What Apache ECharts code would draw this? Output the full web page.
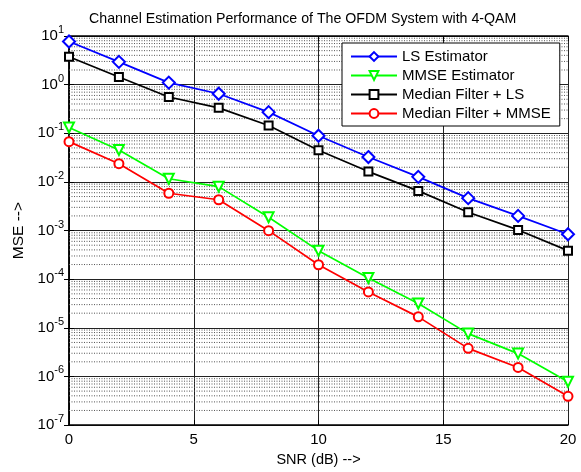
<!DOCTYPE html>
<html>
<head>
<meta charset="utf-8">
<script src="https://cdn.jsdelivr.net/npm/echarts@6/dist/echarts.min.js"></script>
<style>html,body{margin:0;padding:0;background:#fff;}#c{width:581px;height:472px;}</style>
</head>
<body>
<div id="c"></div>
<script>
const snr = [0, 2, 4, 6, 8, 10, 12, 14, 16, 18, 20];
const lsEstimator = [7.7, 2.94, 1.10, 0.65, 0.272, 0.089, 0.0324, 0.0127, 0.00464, 0.0020, 0.00084];
const mmseEstimator = [0.131, 0.0455, 0.0116, 0.0080, 0.00188, 0.000386, 0.000106, 3.16e-5, 7.6e-6, 2.95e-6, 7.8e-7];
const medianLS = [3.76, 1.43, 0.556, 0.333, 0.144, 0.0449, 0.0163, 0.00654, 0.00238, 0.00103, 0.000386];
const medianMMSE = [0.0673, 0.0237, 0.00585, 0.0043, 0.000995, 0.000198, 5.46e-5, 1.68e-5, 3.78e-6, 1.53e-6, 3.9e-7];
const seriesNames = ['LS Estimator', 'MMSE Estimator', 'Median Filter + LS', 'Median Filter + MMSE'];
const titleText = 'Channel Estimation Performance of The OFDM System with 4-QAM';
const xName = 'SNR (dB) -->';
const yName = 'MSE -->';

const FONT = 'Liberation Sans, Arial, sans-serif';
const minorGrid = [];
for (let e = -7; e < 1; e++) for (let m = 2; m <= 9; m++) minorGrid.push([0, m * Math.pow(10, e)]);

function pairs(arr) { return snr.map((x, i) => [x, arr[i]]); }
function mk(name, data, color, symbol, size, rot) {
  return {
    name, type: 'line', data: pairs(data), z: 5,
    symbol, symbolSize: size, symbolRotate: rot || 0,
    lineStyle: { color, width: 1.7 },
    itemStyle: { color, borderColor: color, borderWidth: 1.7 },
    emphasis: { disabled: true }, animation: false
  };
}

const chart = echarts.init(document.getElementById('c'));
chart.setOption({
  animation: false,
  backgroundColor: '#fff',
  title: { text: titleText, left: 84, top: 7, textStyle: { fontFamily: FONT, fontSize: 14.2, fontWeight: 'normal', color: '#000' } },
  grid: { left: 69, right: 13, top: 36, bottom: 41, containLabel: false },
  legend: {
    data: seriesNames, orient: 'vertical', left: 342, top: 43,
    padding: [6, 9, 5, 8], itemGap: 4, itemWidth: 46, itemHeight: 11,
    borderColor: '#000', borderWidth: 1, backgroundColor: '#fff',
    textStyle: { fontFamily: FONT, fontSize: 15, color: '#000' }
  },
  xAxis: [{
    type: 'value', min: 0, max: 20, interval: 5,
    name: xName, nameLocation: 'middle', nameGap: 26,
    nameTextStyle: { fontFamily: FONT, fontSize: 14.5, color: '#000' },
    axisLine: { show: true, lineStyle: { color: '#000', width: 1.5 } },
    axisTick: { show: true, inside: true, length: 5, lineStyle: { color: '#000' } },
    axisLabel: { fontFamily: FONT, fontSize: 15, color: '#000', margin: 7 },
    splitLine: { show: true, lineStyle: { color: '#222', width: 1 } }
  }, {
    type: 'value', min: 0, max: 20, interval: 5, position: 'top',
    axisLine: { show: true, lineStyle: { color: '#000', width: 1.5 } },
    axisTick: { show: true, inside: true, length: 5, lineStyle: { color: '#000' } },
    axisLabel: { show: false }, splitLine: { show: false }
  }],
  yAxis: [{
    type: 'log', logBase: 10, min: 1e-7, max: 10,
    name: yName, nameLocation: 'middle', nameGap: 34, nameRotate: 90,
    nameTextStyle: { fontFamily: FONT, fontSize: 15.5, color: '#000' },
    axisLine: { show: true, lineStyle: { color: '#000', width: 1.5 } },
    axisTick: { show: true, inside: true, length: 5, lineStyle: { color: '#000' } },
    axisLabel: {
      margin: 5, color: '#000',
      formatter: v => '{b|10}{s|' + Math.round(Math.log10(v)) + '}',
      rich: {
        b: { fontFamily: FONT, fontSize: 15, color: '#000' },
        s: { fontFamily: FONT, fontSize: 11, color: '#000', padding: [0, 0, 12, 0] }
      }
    },
    splitLine: { show: true, lineStyle: { color: '#222', width: 1 } }
  }, {
    type: 'log', logBase: 10, min: 1e-7, max: 10, position: 'right',
    axisLine: { show: true, lineStyle: { color: '#000', width: 1.5 } },
    axisTick: { show: true, inside: true, length: 5, lineStyle: { color: '#000' } },
    axisLabel: { show: false }, splitLine: { show: false }
  }],
  series: [
    {
      name: '_grid', type: 'custom', data: minorGrid, z: 1, silent: true,
      renderItem: function (params, api) {
        const cs = params.coordSys;
        const p = api.coord([0, api.value(1)]);
        return {
          type: 'line',
          shape: { x1: cs.x, y1: p[1], x2: cs.x + cs.width, y2: p[1] },
          style: { stroke: '#555', lineWidth: 1, lineDash: [1, 1.5] }
        };
      }
    },
    mk(seriesNames[0], lsEstimator, '#0000ff', 'emptyDiamond', 12),
    mk(seriesNames[1], mmseEstimator, '#00ff00', 'emptyTriangle', 10, 180),
    mk(seriesNames[2], medianLS, '#000000', 'emptyRect', 8),
    mk(seriesNames[3], medianMMSE, '#ff0000', 'emptyCircle', 9)
  ]
});
</script>
</body>
</html>
